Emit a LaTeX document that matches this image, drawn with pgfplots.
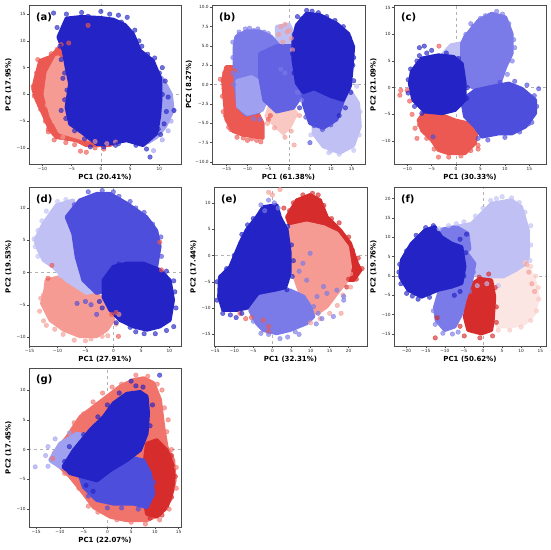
\documentclass[border=0pt]{standalone}
\usepackage{pgfplots}
\pgfplotsset{compat=1.18}
\usepackage{fontspec}
\setmainfont{DejaVu Sans}
\definecolor{DB}{RGB}{36,36,198}
\definecolor{MB}{RGB}{78,78,220}
\definecolor{MB2}{RGB}{98,98,226}
\definecolor{LB1}{RGB}{122,122,233}
\definecolor{LB2}{RGB}{160,160,240}
\definecolor{LB3}{RGB}{192,192,245}
\definecolor{RD}{RGB}{214,44,44}
\definecolor{RE}{RGB}{236,88,82}
\definecolor{RO}{RGB}{240,115,108}
\definecolor{SA}{RGB}{245,155,148}
\definecolor{PK}{RGB}{249,200,195}
\definecolor{WP}{RGB}{251,230,228}
\newcommand{\blob}[2]{\addplot[draw=#1, fill=#1, line width=3.6pt, line join=round, line cap=round, forget plot] coordinates {#2};}
\newcommand{\pts}[2]{\addplot[only marks, mark=*, mark size=2.3pt, draw=#1, fill=#1, opacity=0.65, forget plot] coordinates {#2};}
\newcommand{\zl}{\addplot[gray!60, dashed, line width=0.4pt, forget plot] coordinates {(0,-100) (0,100)};
\addplot[gray!60, dashed, line width=0.4pt, forget plot] coordinates {(-100,0) (100,0)};}
\newcommand{\plab}[1]{\node[anchor=west, font=\bfseries\fontsize{10}{12}\selectfont, inner sep=0pt] at (rel axis cs:0.045,0.925) {#1};}
\pgfplotsset{pc/.style={scale only axis, anchor=north west, width=152pt, height=159pt,
  axis on top, clip=true,
  axis line style={draw=black!70, line width=0.8pt},
  tick style={draw=black!70, line width=0.4pt}, tick align=outside, major tick length=2.2pt,
  xtick pos=bottom, ytick pos=left,
  ticklabel style={font=\fontsize{4.3}{5}\selectfont, text=black!85, inner sep=1pt},
  every axis x label/.style={at={(axis description cs:0.5,-0.082)}, anchor=center, font=\bfseries\fontsize{7}{8}\selectfont},
  every axis y label/.style={at={(axis description cs:-0.135,0.5)}, anchor=center, rotate=90, font=\bfseries\fontsize{7}{8}\selectfont},
}}
\begin{document}
\begin{tikzpicture}
\useasboundingbox (0pt,0pt) rectangle (550pt,-550pt);
% (a)
\begin{axis}[pc, at={(29pt,-5pt)}, xmin=-12.3, xmax=13.7, ymin=-13, ymax=16.7,
  xtick={-10,-5,0,5,10}, xticklabels={−10,−5,0,5,10},
  ytick={-10,-5,0,5,10,15}, yticklabels={−10,−5,0,5,10,15},
  xlabel={PC1 (20.41\%)}, ylabel={PC2 (17.95\%)}]
\zl
\blob{RE}{(-6.7,9.1) (-8.7,7) (-10.4,6.3) (-11.3,2.6) (-11.6,1) (-11,-1.1) (-9.9,-3.6) (-8.7,-6.7) (-7.6,-8) (-4.2,-8.6) (-2.5,-9.5) (1.5,-9.5) (3.2,-8.6) (-2.5,-7.3) (-4.7,-6.1) (-5.3,-1.1) (-5.6,5.1) (-6.2,8.5) (-6.7,9.1)}
\blob{SA}{(-7.5,7) (-9,4) (-9.5,0) (-8.5,-4) (-7,-7) (-3,-8.3) (2,-9) (3,-8) (-2,-6.5) (-4.5,-4) (-5.5,2) (-6,6) (-7.5,7)}
\pts{RE}{(-10.8,6.5) (-11.6,1.5) (-11,2.8) (-9.5,-5) (-3.5,-10.6) (-2.5,-10.8) (0.5,-10.2) (-1,-10) (-6.8,9.3) (-7.5,8.4) (-8.5,7.6) (-5.5,9.6) (-2.2,12.9) (-10.5,-2) (-9,-6.5) (-9.8,5) (-11,4) (-11.4,-0.3) (-10.3,-2.8) (-9,-7) (-8,-8.5) (-6,-9) (-4.5,-9.4) (-11,0.5)}
\pts{SA}{(-1,-8.8) (1,-9.2) (2.5,-8.9) (-6.5,-8) (-8,-5) (-8.8,2) (-9.2,-2)}
\blob{LB2}{(8,5) (10.5,3) (12,0) (12.3,-3) (11,-6) (9.5,-8) (8,-9) (7,-6) (7,0) (8,5)}
\pts{LB2}{(12.4,-3) (12,-1.5) (11,1.5) (10.5,-8.5) (9,-10.5) (12,-5) (11.5,-6.8)}
\blob{DB}{(-7.3,10.7) (-5.9,14.2) (-3.3,14.5) (0,14.3) (2.1,14) (4.1,13) (5.5,11.3) (6.7,8.2) (8.9,6.3) (10.2,2.9) (10.2,-1.1) (10,-4) (9.5,-7.3) (7.2,-9.5) (4.4,-8.6) (1,-9.3) (-0.7,-9.3) (-3,-7.3) (-5.3,-5.5) (-5.9,-2.4) (-5.3,2) (-5.9,5.1) (-6.4,8.2) (-7.3,10.7)}
\pts{DB}{(-8.1,15.2) (-5.9,15) (-3.3,15.3) (-2.2,14.6) (1.5,15) (3,14.8) (4.5,14.4) (6.5,10) (9.2,6.8) (10.5,5) (11,2.5) (11.5,-0.5) (11.2,-3.2) (10.8,-5.5) (10.2,-7.5) (8.4,-11.7) (7.8,-10.2) (0.5,-9.8) (-1.8,-9.8) (2.5,-9.5) (-7.5,12.5) (-7,9) (-6.5,3) (-6.8,-3) (12.5,-3) (-6,12) (-4.5,13.5) (0,15.5) (3.5,13.5) (5.8,12) (7,9) (8,7.5) (10,4) (10.5,0) (9.8,-6.5) (6,-9.5) (3,-9.2) (-2.8,-8.3) (-4.5,-6.8) (-6,-4.5) (-6.2,-1) (-5.8,0.8) (-6.2,4) (-6.8,6.5)}
\plab{(a)}
\end{axis}
% (b)
\begin{axis}[pc, at={(212pt,-5pt)}, width=153pt, xmin=-18.5, xmax=18.2, ymin=-10.26, ymax=10.3,
  xtick={-15,-10,-5,0,5,10,15}, xticklabels={−15,−10,−5,0,5,10,15},
  ytick={-10,-7.5,-5,-2.5,0,2.5,5,7.5,10}, yticklabels={−10.0,−7.5,−5.0,−2.5,0.0,2.5,5.0,7.5,10.0},
  xlabel={PC1 (61.38\%)}, ylabel={PC2 (8.27\%)},
  every axis y label/.style={at={(axis description cs:-0.15,0.5)}, anchor=center, rotate=90, font=\bfseries\fontsize{7}{8}\selectfont}]
\zl
\blob{RE}{(-15.1,2.3) (-13.5,2.3) (-12.7,-0.2) (-11.9,-2.8) (-10.3,-3.9) (-7.5,-3.7) (-6.3,-5) (-6.3,-6.9) (-8.7,-6.7) (-11.1,-6.5) (-13.5,-6) (-15.1,-4.5) (-15.5,-2) (-15.9,0.6) (-15.1,2.3)}
\pts{RE}{(-16.5,0.7) (-15.5,1.5) (-14.5,-5.5) (-12.5,-6.8) (-10,-7.2) (-7.8,-7.2) (-6.8,-7.4) (-5,-4.5) (-4.5,-4) (-16,-1.5) (-15.8,-3.5) (-15.6,-0.5) (-15.3,-4) (-14,-5.8) (-11,-6.9) (-9,-7) (-7,-6.5) (-13,1.8)}
\blob{PK}{(-4.7,-2.8) (0.2,-2.8) (1.8,-3.7) (0.2,-5.4) (-1.4,-6.3) (-3.9,-5) (-5.5,-4.1) (-4.7,-2.8)}
\blob{LB3}{(-3,7.5) (0,7.8) (1.5,6) (1.5,3) (-2,3) (-3,5) (-3,7.5)}
\pts{SA}{(-1,-6.8) (0.5,-6) (-3.5,-5.6) (-5.2,-5) (2.5,-4) (-2,7.5) (-0.5,6.8) (0.5,6) (-1.5,5.5) (0.8,4.5) (1.2,-7.8) (-1,7.8) (0,7) (-2.5,6.5)}
\blob{LB3}{(5.8,-4.1) (9.8,-2) (14.6,-0.7) (16.6,-2.4) (17,-5.4) (15.4,-7.9) (12.2,-8.8) (8.2,-8) (5.8,-6.3) (5.8,-4.1)}
\pts{LB3}{(17,-3.5) (16.8,-6.5) (15.5,-8.5) (12,-9) (10,-8.6) (8,-7.5) (5.2,-6.5) (16.2,-0.2) (9.5,-8.8)}
\blob{LB1}{(-12.7,6.2) (-10.3,6.9) (-7.1,6.9) (-4.3,6.2) (-2.2,4.9) (-2.2,2.8) (-4.7,-0.2) (-6.7,-1.5) (-7.1,-3.5) (-10.3,-3.9) (-12.3,-2.8) (-12.7,-0.7) (-13.1,2.3) (-13.1,4.9) (-12.7,6.2)}
\blob{LB2}{(-12.5,0.5) (-9,1) (-6,0) (-5,-1.5) (-6.5,-3.3) (-10,-3.8) (-12.3,-2.8) (-12.5,0.5)}
\pts{LB1}{(-13.5,5.5) (-12,6.8) (-9.5,7.3) (-7.5,7.2) (-5,6.6) (-13.5,1.5) (-2,2) (-1,1.5) (2,-1) (3,-2) (-7,-4.5) (-8.5,-4.4) (-12,6.5) (-10.5,7.2) (-8.5,7) (-6,6.8) (-13.5,3.5) (-13.3,0)}
\blob{MB2}{(-7,4) (-3,5) (1,5) (3,2) (3.5,-1) (1,-3) (-3,-3.5) (-6,-2) (-7,1) (-7,4)}
\blob{MB}{(3.5,-0.5) (8,-1) (13,-2) (11.4,-4.5) (8.2,-5.6) (5,-5) (3.4,-2.4) (3.5,-0.5)}
\blob{DB}{(1.8,7.7) (4.2,9.2) (7.4,9.0) (11.4,7.9) (14.2,6.6) (15.4,4.9) (15,1.9) (14.6,-0.2) (13,-2) (10,-1.5) (6,-0.5) (3.4,-1) (1.8,0.2) (1,3.2) (1,5.8) (1.8,7.7)}
\pts{DB}{(4.2,9.6) (5.5,9.5) (3,8.5) (13,7.5) (15.5,3.5) (15.5,0.5) (13.5,-3) (12,-4) (2.5,-3) (2,8.8) (7,9.3) (9,8.8) (11,8.3) (14.5,6) (15.3,2.5) (14.8,-1) (1.2,6.5) (0.8,4) (1.2,1.5)}
\pts{MB}{(10,-5.2) (8,-5.8) (6,-5.3) (4,-4.2) (5,-7.5)}
\plab{(b)}
\end{axis}
% (c)
\begin{axis}[pc, at={(394pt,-5pt)}, xmin=-12.7, xmax=18.4, ymin=-14.3, ymax=15.5,
  xtick={-10,-5,0,5,10,15}, xticklabels={−10,−5,0,5,10,15},
  ytick={-10,-5,0,5,10,15}, yticklabels={−10,−5,0,5,10,15},
  xlabel={PC1 (30.33\%)}, ylabel={PC2 (21.09\%)}]
\zl
\blob{LB3}{(-3,6) (-1,8) (2,8.5) (3,7) (1,5.5) (-3,6)}
\blob{LB1}{(1.8,9.5) (4.6,12.6) (7.3,13.9) (10.1,13.2) (11.4,10.1) (11.4,6.4) (10.1,3.9) (8.7,0.2) (4.6,-0.5) (1.8,0.8) (1.2,5.8) (1.2,8.3) (1.8,9.5)}
\pts{LB1}{(8.3,14.3) (9.5,13.8) (5,13) (3.5,11.5) (2,10) (11.8,9) (12,7.5) (11.5,5) (6,13.5) (10.8,12) (10.5,2.5) (3,12)}
\blob{RE}{(-6.7,-4.8) (-2.9,-5.1) (-0.2,-6.1) (3.2,-6.8) (4.2,-8.3) (3.9,-10.4) (1.8,-12.3) (-1.6,-12.3) (-3.6,-11.7) (-5,-9.8) (-7,-8) (-7.7,-6.1) (-6.7,-4.8)}
\pts{RE}{(-11.3,-0.5) (-11.5,-1.4) (-10,-0.5) (-9.5,-2.5) (-8.4,-7.6) (-8,-9.5) (-3.6,-13) (-1.5,-13) (1,-12.8) (4.5,-10.8) (4.5,-11.5) (-9,-5) (-3.5,7.8) (-7.5,-7) (-6,-9.5) (-4.5,-11.5) (3,-11.8)}
\blob{MB}{(3.9,-0.5) (7.3,0.2) (10.8,0.8) (13.5,-0.2) (16.2,-2.3) (16.2,-4.8) (14.2,-7.3) (11.4,-8.6) (8.7,-8.6) (5.3,-9.2) (3.9,-7.3) (1.8,-5.4) (1.2,-2.3) (3.9,-0.5)}
\pts{MB}{(16.9,-0.2) (16.5,-3.5) (15.5,-6.5) (13,-8.3) (10,-9.3) (6.5,-9.8) (4.5,-9.5) (-4.7,-9.2) (14.5,0.5) (12,1.2) (9,1) (16,-1.5) (14.8,-6.8)}
\blob{DB}{(-8.4,3.9) (-7,5.5) (-3.6,6.1) (-0.5,5.8) (1.2,4.5) (1.8,0.8) (1.8,-2.3) (-0.2,-4.2) (-2.9,-4.8) (-6.4,-4.5) (-8.8,-2.3) (-9.5,0.8) (-9.1,3) (-8.4,3.9)}
\pts{DB}{(-8,5) (-6,6.5) (-7.5,6) (-9.8,1.5) (-9.8,-1) (-8.5,-3.5) (2.3,0) (2.2,-2) (0.5,5.5) (-5,7) (-6.5,7.8) (-7.5,7.5) (-2,6.5) (-9.3,3.5) (-7,-4.8)}
\plab{(c)}
\end{axis}
% (d)
\begin{axis}[pc, at={(29pt,-187pt)}, xmin=-15.1, xmax=12.1, ymin=-11.4, ymax=13.25,
  xtick={-15,-10,-5,0,5,10}, xticklabels={−15,−10,−5,0,5,10},
  ytick={-10,-5,0,5,10}, yticklabels={−10,−5,0,5,10},
  xlabel={PC1 (27.91\%)}, ylabel={PC2 (19.53\%)}]
\zl
\blob{SA}{(-12,-1.2) (-9.6,-0.7) (-6.6,-1.7) (-3.6,-3.2) (-1.2,-4.3) (0,-5.8) (0,-7.4) (-1.2,-8.9) (-3,-9.9) (-6,-9.9) (-8.9,-8.9) (-11.3,-7.4) (-12.8,-4.8) (-12.2,-2.7) (-12,-1.2)}
\pts{SA}{(-13.2,-6) (-12.5,-7.5) (-10.5,-8.8) (-7,-10.5) (-4,-10.3) (-1,-9.8) (-12.5,-3.5) (1,-6.5) (0.5,-8) (-13,-4) (-12,-8.2) (-9,-9.6) (-5,-10.6) (-2,-9.9)}
\pts{RE}{(-11,1.1) (-11.7,-0.9) (0.9,-9.9) (8.3,4.7) (8.6,0.4) (0.5,-6.2) (-0.3,-6.5)}
\blob{LB3}{(-14,5) (-12.5,7.6) (-10.2,10.4) (-7.2,11.2) (-6.6,9.1) (-6.9,4) (-6,0.9) (-4.2,-1.2) (-2.4,-2.7) (-4.8,-3.2) (-8.4,-1.2) (-10.8,0.9) (-12.5,1.9) (-13.4,3.5) (-14,5)}
\pts{LB3}{(-14.2,5.2) (-13.5,6.5) (-12,9.5) (-10,11) (-8.5,11.3) (-11.5,8.5) (-13.5,2.5) (-14,4) (-12.8,8) (-9.5,-0.5) (-7,-1.6)}
\blob{MB}{(-8.4,8.6) (-6,11.2) (-3,12.2) (-0.6,12.2) (2.4,10.7) (5.9,8.6) (7.7,6.5) (8.3,4) (7.7,0.9) (5.4,-0.2) (2.4,-0.7) (-0.6,-2.7) (-3,-3.2) (-5.4,-1.2) (-6.6,2.4) (-7.2,6) (-8.4,8.6)}
\pts{MB}{(-4.5,12.5) (-2,12.7) (1,11.8) (4,10) (7,7.5) (8.5,5.5) (-5,-4.5) (-4,-5) (-3,-6.5) (-6.5,-4.8) (-7,10.5) (0,12.5) (3,11) (5.5,9.3) (8.6,2.5)}
\blob{DB}{(-1.8,-1.2) (0,0.9) (2.4,1.4) (5.4,1.4) (8.3,0.4) (10.1,-1.2) (10.7,-4.3) (10.1,-7.4) (8.3,-8.4) (6,-8.9) (3.6,-8.4) (1.2,-7.4) (-0.6,-5.8) (-1.8,-3.8) (-1.8,-1.2)}
\pts{DB}{(10.8,-1.3) (11,-3) (11.2,-5.5) (10.8,-8.4) (9.5,-9) (7.5,-9.5) (5.5,-9.5) (3,-8.5) (0.5,-7.8) (-2.5,-4.5) (-2,-5.5) (9.5,0.2) (1,1.3) (4,-9.2)}
\plab{(d)}
\end{axis}
% (e)
\begin{axis}[pc, at={(214pt,-187pt)}, width=153pt, xmin=-15.3, xmax=24.8, ymin=-17.2, ymax=13,
  xtick={-15,-10,-5,0,5,10,15,20}, xticklabels={−15,−10,−5,0,5,10,15,20},
  ytick={-15,-10,-5,0,5,10}, yticklabels={−15,−10,−5,0,5,10},
  xlabel={PC1 (32.31\%)}, ylabel={PC2 (17.44\%)}]
\zl
\blob{RD}{(3.8,7.3) (6.4,10.5) (9.9,11.5) (12.5,10.5) (14.3,7.3) (17.8,4.8) (20.4,2.3) (22.2,-1.5) (23.1,-2.8) (21.3,-4.7) (19.6,-4.7) (17,0) (12,3) (6,3) (3.8,7.3)}
\pts{RD}{(10.5,11.8) (12,11.5) (13.5,9.5) (15.5,7) (17.5,6.2) (20,3.5) (22.5,-0.5) (23.5,-2.5) (22,-4.5) (20,-4.5) (19.5,-6) (4.5,8.5) (3,9) (8,11.5) (5.5,10) (21,1)}
\blob{SA}{(4.6,5.4) (9,6.1) (13.4,5.4) (16.9,4.2) (19.6,1.6) (20.4,-2.2) (19.6,-4.7) (16.9,-7.2) (14.3,-9.7) (11.7,-11) (9,-9.7) (7.3,-7.2) (5.5,-3.4) (4.6,1.6) (4.6,5.4)}
\pts{SA}{(18.5,-7.5) (17,-9.5) (15,-11) (12.5,-12) (17.5,1) (20.5,-6) (10,-12.8) (18,-11) (0,11.5) (-1,12) (2,12.5) (20.5,-3.5)}
\pts{RE}{(-8.5,-11) (-7,-12) (-2.4,-12.3) (-1,-13.5) (-5.5,-11.8) (-1,-14.5)}
\blob{DB}{(-13.8,-4.1) (-11.1,-2.2) (-8.5,2.3) (-6.8,4.8) (-4.1,7.3) (-2.4,9.2) (1.1,9.6) (2,7.3) (3.8,4.8) (4.6,0.4) (4.6,-3.4) (2.9,-7.2) (-0.6,-9.1) (-5,-9.7) (-9.4,-10.4) (-12.9,-10.4) (-14,-7.8) (-13.8,-4.1)}
\pts{DB}{(-14.5,-5) (-14.5,-8.5) (-13,-11) (-11,-11.3) (-9.5,-11.8) (-8,-11) (-12,-2.5) (-10,0) (-8,4) (-5,7) (4,5.5) (5,2) (5.5,-1) (-9.5,-1) (-6.5,5.8) (5.2,-4) (3.8,-6.5)}
\pts{LB1}{(-3,9.6) (-1,10.5) (0.5,10) (1.5,9) (-2,8.5)}
\blob{LB1}{(-5.9,-10.4) (-3.2,-7.8) (1.1,-7.2) (4.6,-6.6) (8.2,-7.8) (9.9,-9.7) (10.8,-11.6) (9,-12.9) (4.6,-14.2) (1.1,-14.8) (-2.4,-14.2) (-4.1,-12.9) (-5.9,-10.4)}
\pts{LB1}{(12,-11) (13,-12) (11.5,-13) (7,-15) (4,-15.5) (2,-15.8) (-1,-15) (6,-14.5) (9.9,0.4) (9,-4.7) (13.4,-5.9) (14.3,-7.2) (16.9,-6.6) (18.7,-7.8) (11.7,-7.8) (10.8,-9.7) (16,-11.6) (18.7,-8.5) (7,-3) (8,-1.5) (-5,-12.5) (-3,-14.8)}
\plab{(e)}
\end{axis}
% (f)
\begin{axis}[pc, at={(394pt,-187pt)}, xmin=-23.3, xmax=16.5, ymin=-18.1, ymax=23,
  xtick={-20,-15,-10,-5,0,5,10,15}, xticklabels={−20,−15,−10,−5,0,5,10,15},
  ytick={-15,-10,-5,0,5,10,15,20}, yticklabels={−15,−10,−5,0,5,10,15,20},
  xlabel={PC1 (50.62\%)}, ylabel={PC2 (19.76\%)}]
\zl
\blob{LB3}{(-10.9,11.8) (-7.4,12.7) (-3,13.5) (-0.4,16.1) (2.2,18.7) (7.4,19.6) (10,17.9) (11.8,11.8) (11.8,4.9) (10,1.5) (6.5,-1.1) (3.9,-1.9) (0.4,-1.1) (-2.2,0.7) (-3.9,4.9) (-6.5,7.5) (-9.1,9.7) (-10.9,11.8)}
\pts{LB3}{(5,20.5) (7.5,20.2) (9.5,19) (11,16.5) (12.5,13) (12.5,8) (12.3,4) (-11.5,12.2) (-9,13) (-5,14) (-2,15.5) (0,17.5) (2,19.5) (4,-2.5) (1,-2) (-1.5,-2.5) (3.5,20) (-7,13.5)}
\blob{LB1}{(-11,12) (-7,12.7) (-4,11) (-3.5,7) (-6,5) (-10,6) (-11,12)}
\blob{WP}{(2.2,-1.1) (5.6,-1.1) (9.1,0.7) (11.7,2.4) (13.5,-1.1) (14.4,-5.4) (13.5,-9.7) (10.9,-12.3) (7.4,-13.1) (3.9,-13.1) (2.6,-9.7) (3,-4.5) (2.2,-1.1)}
\pts{PK}{(11,3.5) (12.5,2.5) (13.8,0) (14.5,-3) (14.6,-6) (14,-9) (12.5,-11.5) (10,-13.2) (7,-14) (4,-14)}
\pts{SA}{(12,1) (12.8,-2) (13.5,-4) (11.5,3)}
\blob{RD}{(-3.9,-2.8) (-0.9,-0.7) (2.2,-1.1) (3,-5.4) (2.6,-11.4) (2.2,-14) (-0.4,-14.9) (-3.9,-14) (-4.8,-10.6) (-4.3,-7.1) (-3.9,-2.8)}
\pts{RD}{(-4.9,-15.5) (-12.5,-16) (-0.8,-16) (2.5,-15.5) (3.5,-12) (-12,-10.8) (1.5,0.5) (-1,-0.3) (-6,-13) (3.5,-8) (3.2,-3)}
\blob{LB1}{(-10.9,2.4) (-8.2,4.9) (-4.8,6.7) (-2.2,3.2) (-3,-1.1) (-4.8,-6.3) (-5.6,-9.7) (-7.4,-13.1) (-10,-14) (-12.2,-11.4) (-12.6,-8) (-11.3,-3.6) (-10.9,2.4)}
\pts{LB1}{(-10.5,-14.8) (-12.5,-12.5) (-13,-9) (-6.5,-14.5) (-8,-15) (-2.5,1) (-3.5,-4)}
\blob{DB}{(-21.3,4.1) (-18.7,8.4) (-15.2,11.8) (-12.6,12.7) (-10.9,10.1) (-8.2,8.4) (-5.6,7.5) (-4.8,2.4) (-5.6,-1.9) (-8.2,-2.8) (-11.7,-3.6) (-16.1,-5.4) (-19.6,-3.6) (-21.7,-0.2) (-21.3,4.1)}
\pts{DB}{(-21.8,3) (-22,1) (-21.5,-2) (-20,-4.5) (-17,-6) (-14,-5.5) (-13,13) (-15,12.5) (-17.5,10.5) (-4.3,10.8) (-6,9.5) (-4.5,6) (-5,0) (-6,-4) (-7.5,-5) (-9,8.5) (-20,6.5) (-18.5,-5.2)}
\plab{(f)}
\end{axis}
% (g)
\begin{axis}[pc, at={(29pt,-368pt)}, xmin=-16.5, xmax=15.5, ymin=-13, ymax=13.7,
  xtick={-15,-10,-5,0,5,10,15}, xticklabels={−15,−10,−5,0,5,10,15},
  ytick={-10,-5,0,5,10}, yticklabels={−10,−5,0,5,10},
  xlabel={PC1 (22.07\%)}, ylabel={PC2 (17.45\%)}]
\zl
\blob{RO}{(-11.4,-0.7) (-8.5,2.1) (-5.7,5.5) (-2.9,7.2) (-0.1,8.9) (2.7,10.6) (5.5,11.7) (7.6,12) (9.7,11.2) (11.1,8.4) (11.8,3.8) (12.5,0.4) (13.9,-1.8) (14.2,-5.2) (13.2,-8.5) (11.1,-10.8) (8.3,-11.9) (4.1,-11.9) (0.6,-11.3) (-2.9,-9.7) (-5,-7.4) (-7.8,-4.6) (-10.6,-2.4) (-11.4,-0.7)}
\pts{RO}{(-5,6) (-7,4.5) (-1,9.5) (3,11) (6,12.5) (8.5,12.3) (10.5,11) (12,7) (12.5,3) (13.5,0) (14.5,-3) (14.5,-6.5) (13,-10) (11,-11.8) (8,-12.5) (5,-12.2) (2,-11.8) (-2,-10.5) (-4,-9.5) (-6,-6.5) (-9,-4) (-11.5,-1.5) (-3,8) (1,10.5) (11.5,10) (12.8,5)}
\blob{RD}{(8.3,1) (10.4,1.6) (12.5,-0.1) (13.9,-2.9) (13.9,-6.3) (12.5,-9.7) (10.4,-11.3) (8.3,-10.8) (7.6,-7.4) (7.6,-3.5) (8.3,1)}
\pts{RD}{(13.5,-1) (14.3,-4.5) (13.5,-8) (11.5,-11) (9,-11.5)}
\blob{LB2}{(-12.1,-1.8) (-10,1) (-6.4,2.7) (-2.9,2.1) (-2.2,-1.8) (-4.3,-4) (-7.1,-3.5) (-10,-2.9) (-12.1,-1.8)}
\pts{LB2}{(-15.2,-2.9) (-13,-1) (-12.5,0.5) (-11,1.8) (-12.5,-2.8) (-8,2.8)}
\blob{MB}{(-6.4,-2.9) (-1.5,-1.8) (4.1,-1.2) (7.6,-1.8) (9,-4) (9.7,-7.4) (8.3,-9.7) (5.5,-9.1) (1.3,-9.1) (-2.2,-8.5) (-5,-6.3) (-6.4,-2.9)}
\pts{MB}{(-4,-7.8) (0,-9.8) (3,-9.8) (6.5,-10) (9.8,-5.5)}
\blob{DB}{(-9.3,-2.9) (-7.1,-0.1) (-3.6,3.3) (-0.8,5.5) (1.3,7.8) (4.1,9.4) (6.9,9.7) (8.3,8.9) (8.6,6.1) (8.3,2.7) (6.9,-0.1) (4.1,-1.8) (0.6,-3.5) (-2.2,-5.2) (-5,-4.6) (-7.8,-4) (-9.3,-2.9)}
\pts{DB}{(11,12.5) (5,11.5) (6,10.7) (7.5,10.5) (8,9) (9.5,7.5) (9,4) (-9,-2) (-8,0.5) (-4.5,-6) (-3,-7) (-5,2.5) (-2,5.5) (0,7.5) (2.5,9.5)}
\plab{(g)}
\end{axis}
\end{tikzpicture}
\end{document}
